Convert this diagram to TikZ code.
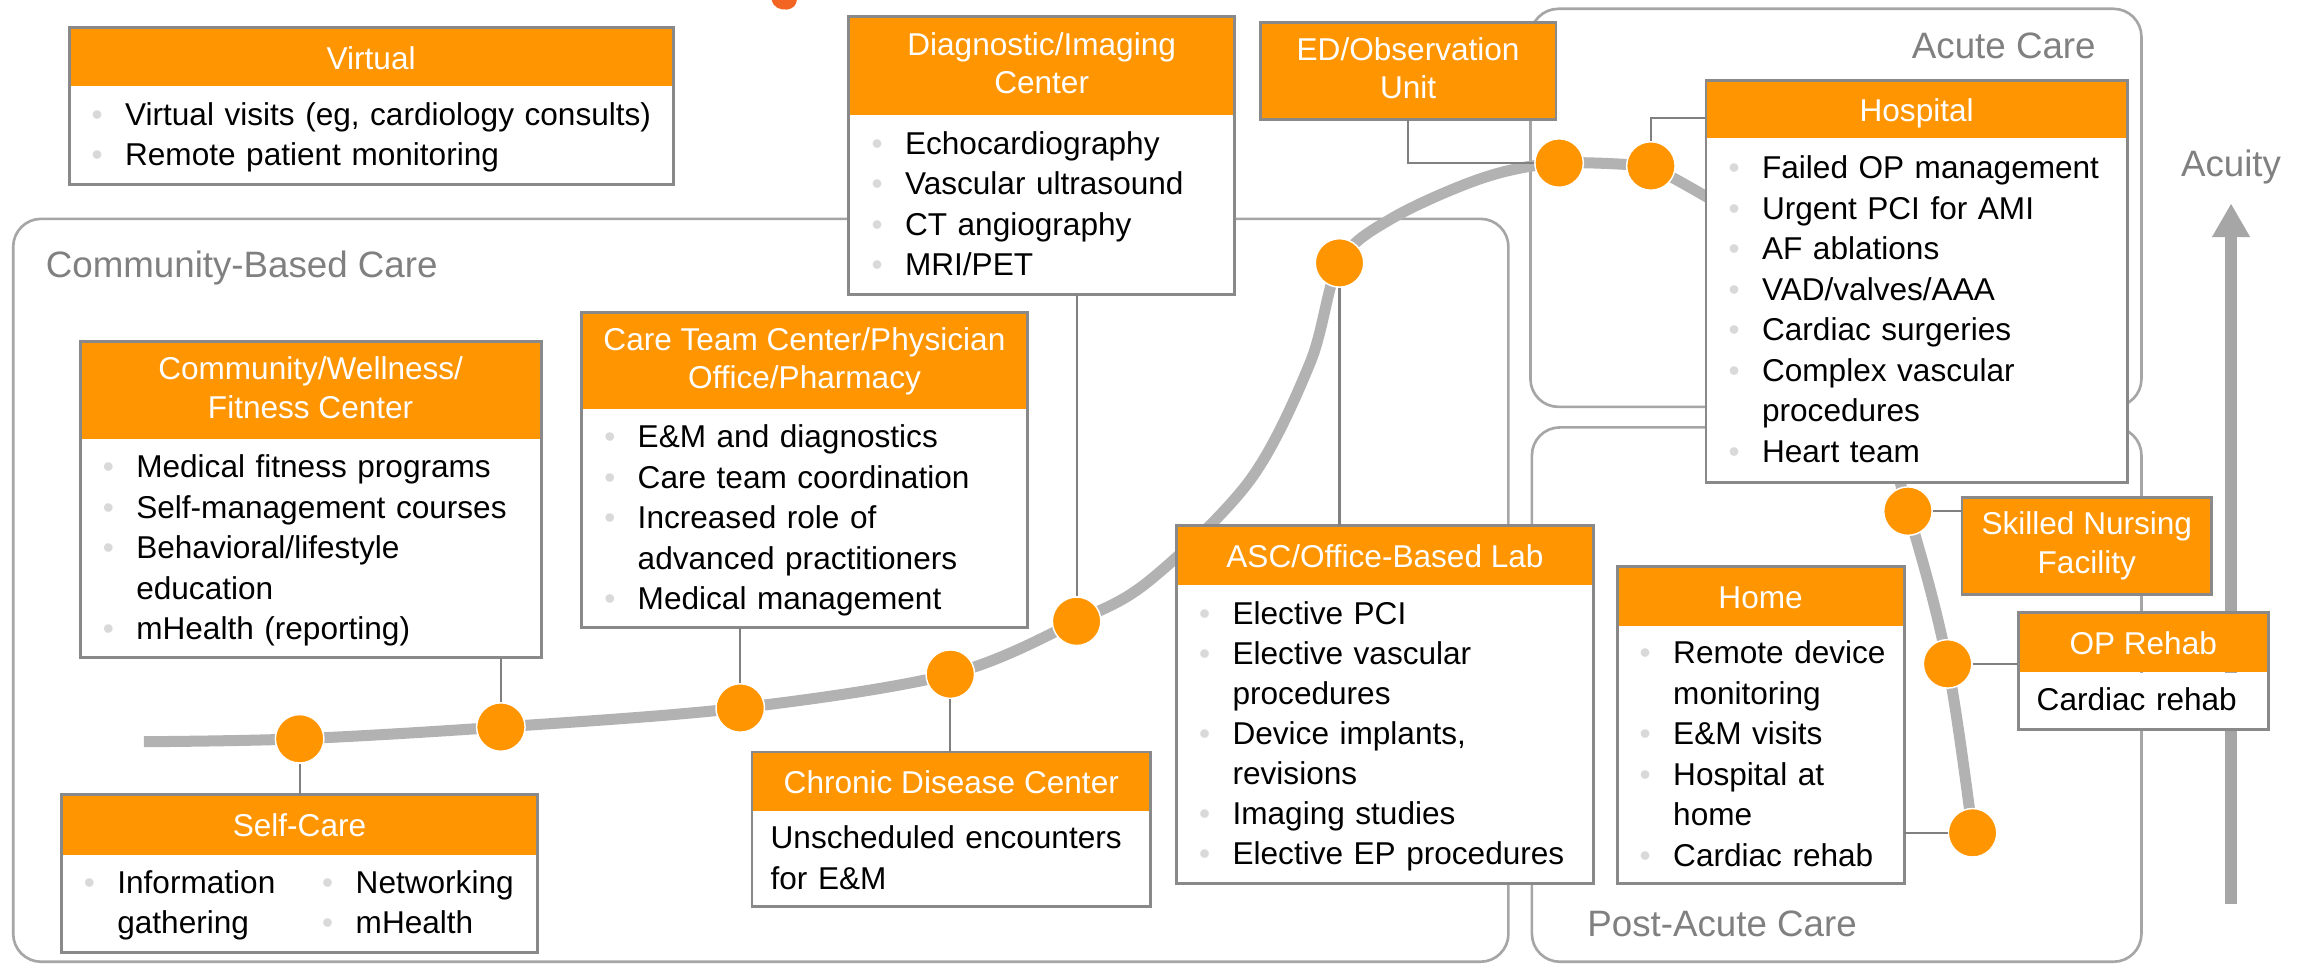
\documentclass[tikz,border=0pt]{standalone}
\usepackage{fontspec}
\setmainfont{Liberation Sans}
\usetikzlibrary{arrows.meta}
\definecolor{hdorange}{RGB}{255,149,0}
\definecolor{titleorange}{RGB}{242,101,34}
\definecolor{trackgray}{RGB}{178,178,178}
\definecolor{regiongray}{RGB}{166,166,166}
\definecolor{framegray}{RGB}{137,137,137}
\definecolor{linkgray}{RGB}{128,128,128}
\definecolor{labelgray}{RGB}{128,128,128}
\definecolor{dotgray}{RGB}{217,217,217}

\newcommand{\bstrut}{\rule[-6.65pt]{0pt}{27pt}}
\newcommand{\hstrut}{\rule[-3.9pt]{0pt}{24pt}}
\newcommand{\bul}{\makebox[38pt][l]{\hspace{15.2pt}\textcolor{dotgray}{\textbullet}}\bstrut}
\newcommand{\contln}{\hspace*{38pt}\bstrut}
\newcommand{\plainln}{\hspace*{12.5pt}\bstrut}

\tikzset{
	head/.style={fill=hdorange, text=white, inner sep=0pt, anchor=north west, align=center,
		font=\fontsize{21.5}{26}\selectfont, execute at begin node=\hstrut, execute at end node=\hstrut},
	body/.style={fill=white, inner sep=0pt, anchor=north west, align=left,
		font=\fontsize{21.5}{27.6}\selectfont},
	frame/.style={draw=framegray, line width=2pt},
	region/.style={draw=regiongray, line width=1.8pt, rounded corners=19pt},
	regionlabel/.style={text=labelgray, inner sep=0pt, font=\fontsize{25}{30}\selectfont},
	track/.style={draw=trackgray, line width=7.5pt},
	link/.style={draw=linkgray, line width=1.4pt},
	milestone/.style={circle, fill=hdorange, draw=white, line width=1pt, minimum size=33pt, inner sep=0pt},
}

\begin{document}
\begin{tikzpicture}[x=1pt, y=-1pt]
		\useasboundingbox (0,0) rectangle (1568,656);
		\fill[white] (0,0) rectangle (1568,656);
		\fill[titleorange] (525.5,0) .. controls (526.5,5) and (531,7) .. (536,6.5) .. controls (540,6) and (542.5,3) .. (542.5,0) -- cycle;

		\draw[region] (9,149) rectangle (1027,654.8);
		\draw[region] (1042,6) rectangle (1458,277);
		\draw[region] (1043,291) rectangle (1458,654.8);
		\node[regionlabel, anchor=base west] (cbc) at (31,189) {Community-Based Care};
		\node[regionlabel, anchor=base east] (acc) at (1427,39.7) {Acute Care};
		\node[regionlabel, anchor=base west] (pac) at (1080.6,637.7) {Post-Acute Care};

		\coordinate (acbot) at (1519,615.5);
		\coordinate (actop) at (1519,138.5);
		\draw[draw=regiongray, line width=8pt, -{Triangle[length=23pt,width=24.4pt]}] (acbot) -- (actop);
		\node[regionlabel, anchor=base] (acuity) at (1519,120.3) {Acuity};

		\coordinate (t0) at (98,505);
		\coordinate (t1) at (204,503);
		\coordinate (t2) at (341,495);
		\coordinate (t3) at (504,482);
		\coordinate (t4) at (647,459);
		\coordinate (t5) at (733,423);
		\coordinate (u1) at (783,395);
		\coordinate (u2) at (851,327);
		\coordinate (u3) at (892,247);
		\coordinate (t7) at (912,179);
		\coordinate (u4) at (948,148.5);
		\coordinate (u5) at (1010,121);
		\coordinate (t9) at (1061.5,111);
		\coordinate (t10) at (1124,113);
		\coordinate (t11) at (1250,200);
		\coordinate (t12) at (1299,348);
		\coordinate (t13) at (1326,452);
		\coordinate (t14) at (1343,567);
		\draw[track] plot[smooth, tension=0.55] coordinates {(t0) (t1) (t2) (t3) (t4) (t5) (u1) (u2) (u3) (t7) (u4) (u5) (t9) (t10)};
		\draw[track] plot[smooth, tension=0.55] coordinates {(t10) (t11) (t12) (t13) (t14)};

		\node[head, minimum width=411pt, minimum height=39.5pt] (virh) at (47,19) {Virtual};
		\node[body, text width=411pt, minimum height=66.5pt] (virb) at (virh.south west)
			{\bul Virtual visits (eg, cardiology consults)\\\bul Remote patient monitoring};
		\draw[frame] (virh.north west) rectangle (virb.south east);

		\node[head, minimum width=262pt, minimum height=66.7pt] (diagh) at (578,11.3) {Diagnostic/Imaging\\Center};
		\node[body, text width=262pt, minimum height=122pt] (diagb) at (diagh.south west)
			{\bul Echocardiography\\\bul Vascular ultrasound\\\bul CT angiography\\\bul MRI/PET};
		\draw[frame] (diagh.north west) rectangle (diagb.south east);

		\node[head, minimum width=201pt, minimum height=65.5pt] (edh) at (858,15.5) {ED/Observation\\Unit};
		\draw[frame] (edh.north west) rectangle (edh.south east);

		\node[head, minimum width=286.5pt, minimum height=39pt] (hosph) at (1161.5,55) {Hospital};
		\node[body, text width=286.5pt, minimum height=233.5pt] (hospb) at (hosph.south west)
			{\bul Failed OP management\\\bul Urgent PCI for AMI\\\bul AF ablations\\\bul VAD/valves/AAA\\
			\bul Cardiac surgeries\\\bul Complex vascular\\\contln procedures\\\bul Heart team};
		\draw[frame] (hosph.north west) rectangle (hospb.south east);

		\node[head, minimum width=313.4pt, minimum height=66.2pt] (commh) at (54.6,232.5) {Community/Wellness/\\Fitness Center};
		\node[body, text width=313.4pt, minimum height=148.3pt] (commb) at (commh.south west)
			{\bul Medical fitness programs\\\bul Self-management courses\\\bul Behavioral/lifestyle\\
			\contln education\\\bul mHealth (reporting)};
		\draw[frame] (commh.north west) rectangle (commb.south east);

		\node[head, minimum width=303pt, minimum height=65.5pt] (careh) at (396,213) {Care Team Center/Physician\\Office/Pharmacy};
		\node[body, text width=303pt, minimum height=148pt] (careb) at (careh.south west)
			{\bul E\&M and diagnostics\\\bul Care team coordination\\\bul Increased role of\\
			\contln advanced practitioners\\\bul Medical management};
		\draw[frame] (careh.north west) rectangle (careb.south east);

		\node[head, minimum width=283.5pt, minimum height=40pt] (asch) at (801,358) {ASC/Office-Based Lab};
		\node[body, text width=283.5pt, minimum height=202.7pt, font=\fontsize{21.5}{27.3}\selectfont] (ascb) at (asch.south west)
			{\bul Elective PCI\\\bul Elective vascular\\\contln procedures\\\bul Device implants,\\
			\contln revisions\\\bul Imaging studies\\\bul Elective EP procedures};
		\draw[frame] (asch.north west) rectangle (ascb.south east);

		\node[head, minimum width=195pt, minimum height=40pt] (homeh) at (1101,386) {Home};
		\node[body, text width=195pt, minimum height=174.6pt] (homeb) at (homeh.south west)
			{\bul Remote device\\\contln monitoring\\\bul E\&M visits\\\bul Hospital at\\\contln home\\\bul Cardiac rehab};
		\draw[frame] (homeh.north west) rectangle (homeb.south east);

		\node[head, minimum width=324pt, minimum height=40.6pt] (selfh) at (41.7,541) {Self-Care};
		\node[body, text width=324pt, minimum height=66pt] (selfb) at (selfh.south west)
			{\bul\makebox[124.3pt][l]{Information}\bul Networking\\\contln\makebox[124.3pt][l]{gathering}\bul mHealth};
		\draw[frame] (selfh.north west) rectangle (selfb.south east);

		\node[head, minimum width=271pt, minimum height=40pt] (chronh) at (512,512) {Chronic Disease Center};
		\node[body, text width=271pt, minimum height=64.6pt] (chronb) at (chronh.south west)
			{\plainln Unscheduled encounters\\\plainln for E\&M};
		\draw[frame] (chronh.north west) rectangle (chronb.south east);

		\node[head, minimum width=169.6pt, minimum height=66pt] (snfh) at (1335.8,338.4) {Skilled Nursing\\Facility};
		\draw[frame] (snfh.north west) rectangle (snfh.south east);

		\node[head, minimum width=170pt, minimum height=40pt] (rehabh) at (1374,417.3) {OP Rehab};
		\node[body, text width=170pt, minimum height=38.6pt] (rehabb) at (rehabh.south west) {\plainln Cardiac rehab};
		\draw[frame] (rehabh.north west) rectangle (rehabb.south east);

		\node[milestone] (pself) at (t1) {};
		\node[milestone] (pcomm) at (t2) {};
		\node[milestone] (pcare) at (t3) {};
		\node[milestone] (pchron) at (t4) {};
		\node[milestone] (pdiag) at (t5) {};
		\node[milestone] (pasc) at (t7) {};
		\node[milestone] (ped) at (t9) {};
		\node[milestone] (phosp) at (t10) {};
		\node[milestone] (psnf) at (t12) {};
		\node[milestone] (prehab) at (t13) {};
		\node[milestone] (phome) at (t14) {};

		\draw[link] (pself) -- (pself |- selfh.north);
		\draw[link] (pcomm) -- (pcomm |- commb.south);
		\draw[link] (pcare) -- (pcare |- careb.south);
		\draw[link] (pchron) -- (pchron |- chronh.north);
		\draw[link] (pdiag) -- (pdiag |- diagb.south);
		\draw[link] (pasc) -- (pasc |- asch.north);
		\draw[link] (edh.south) |- (ped);
		\draw[link] (phosp) |- ([yshift=-5.5pt]hosph.west);
		\draw[link] (psnf) -- (psnf -| snfh.west);
		\draw[link] (prehab) -- (prehab -| rehabh.west);
		\draw[link] (phome) -- (phome -| homeb.east);

	\end{tikzpicture}
\end{document}
